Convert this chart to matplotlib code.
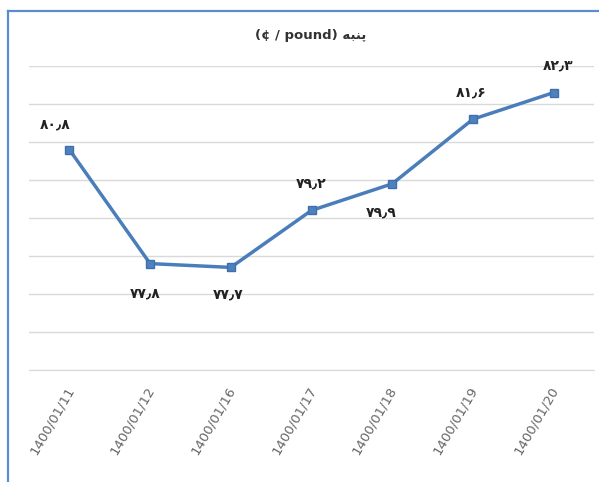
import numpy as np
import matplotlib
matplotlib.use("Agg")
import matplotlib.pyplot as plt
from matplotlib.lines import Line2D
from matplotlib.transforms import ScaledTranslation

# data
dates = ["1400/01/11", "1400/01/12", "1400/01/16", "1400/01/17",
         "1400/01/18", "1400/01/19", "1400/01/20"]
prices = [80.8, 77.8, 77.7, 79.2, 79.9, 81.6, 82.3]

# where each value label sits relative to its point (points)
label_off = [(-10, 18), (-3.5, -21.5), (-2, -19.5), (0, 19.5),
             (-8, -21), (-1.5, 19.5), (3, 19.5)]

fa_digits = str.maketrans("0123456789.", "۰۱۲۳۴۵۶۷۸۹٫")


def fa_num(v):
    return f"{v:.1f}".translate(fa_digits)


# "پنبه" in presentation forms, visual order (matplotlib does no shaping)
title_fa = "\uFEEA\uFE92\uFEE8\uFB58"

W, H = 599, 482
fig = plt.figure(figsize=(W / 100, H / 100), dpi=100)
ax = fig.add_axes([29 / W, 1 - 370 / H, (594 - 29) / W, (370 - 66) / H])

x = np.arange(len(dates))
ax.plot(x, prices, color="#4a7ebb", lw=2.5, marker="s", ms=5.5,
        mfc="#4f81bd", mec="#3e70b0", zorder=3)

ax.set_xlim(-0.5, len(dates) - 0.5)
ax.set_ylim(75, 83)
ax.set_yticks(np.arange(75, 84))
ax.yaxis.grid(True, color="#d9d9d9", lw=1)
ax.set_axisbelow(True)
ax.tick_params(axis="y", length=0, labelleft=False)

for s in ["top", "right", "left"]:
    ax.spines[s].set_visible(False)
ax.spines["bottom"].set_color("#d9d9d9")

ax.set_xticks(x)
ax.set_xticklabels(dates, rotation=60, ha="right", va="top",
                   rotation_mode="anchor", fontsize=9.5, color="#666666")
ax.tick_params(axis="x", length=0, pad=10)
shift = ScaledTranslation(-4 / 100, 0, fig.dpi_scale_trans)
for lab in ax.get_xticklabels():
    lab.set_transform(lab.get_transform() + shift)

for xi, v, off in zip(x, prices, label_off):
    ax.annotate(fa_num(v), (xi, v), xytext=off, textcoords="offset points",
                ha="center", va="center", fontsize=10, fontweight="bold",
                color="#222222", family=["DejaVu Sans"])

fig.text(311 / W, 1 - 36 / H, "(¢ / pound) " + title_fa, ha="center",
         va="center", fontsize=9.5, fontweight="bold", color="#333333",
         family=["DejaVu Sans"])

# blue frame (left and top edges visible in the crop)
fig.add_artist(Line2D([8 / W, 8 / W], [0, 1 - 11 / H], color="#5b8bd0",
                      lw=1.6, transform=fig.transFigure))
fig.add_artist(Line2D([8 / W, 1], [1 - 11 / H, 1 - 11 / H], color="#5b8bd0",
                      lw=1.6, transform=fig.transFigure))

fig.savefig("out.png", dpi=100)
